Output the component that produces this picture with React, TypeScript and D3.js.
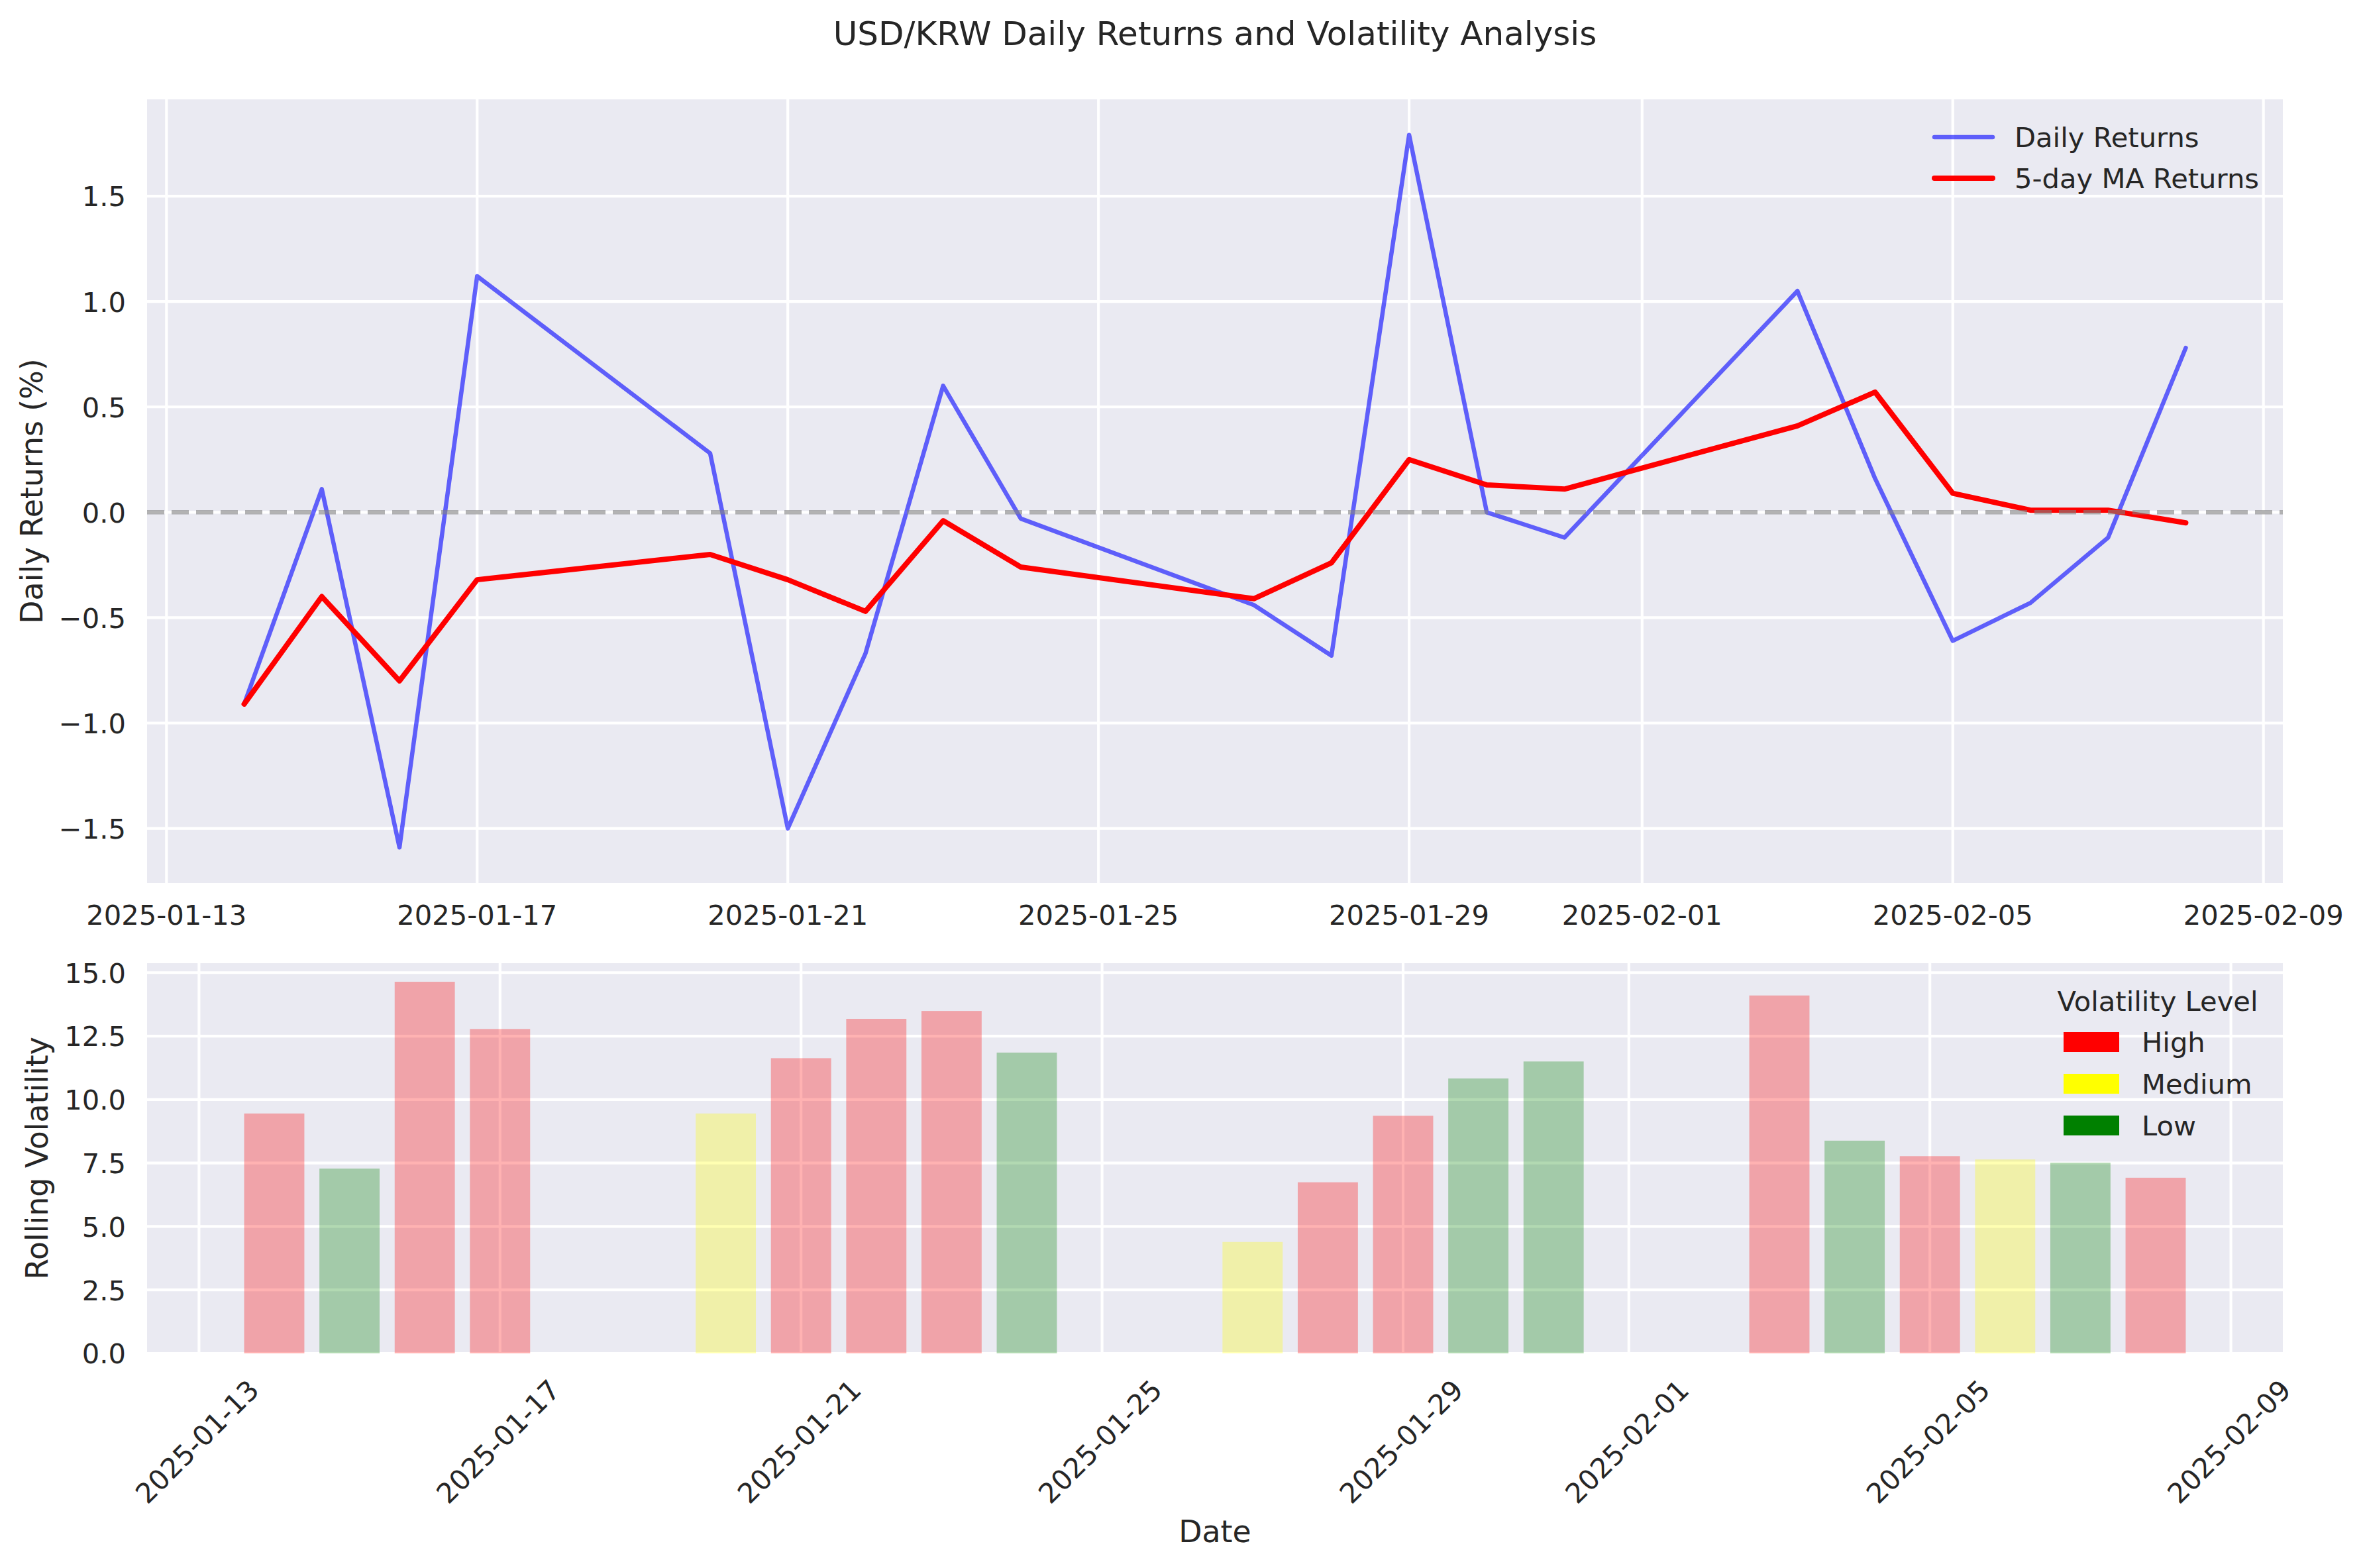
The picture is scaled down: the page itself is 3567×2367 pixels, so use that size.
import React from "react";
import * as d3 from "d3";

// ---- data ----
const dates = [
  "2025-01-14", "2025-01-15", "2025-01-16", "2025-01-17", "2025-01-20",
  "2025-01-21", "2025-01-22", "2025-01-23", "2025-01-24", "2025-01-27",
  "2025-01-28", "2025-01-29", "2025-01-30", "2025-01-31", "2025-02-03",
  "2025-02-04", "2025-02-05", "2025-02-06", "2025-02-07", "2025-02-08",
];
const dailyReturns = [
  -0.91, 0.11, -1.59, 1.12, 0.28, -1.5, -0.67, 0.6, -0.03, -0.44,
  -0.68, 1.79, 0.0, -0.12, 1.05, 0.16, -0.61, -0.43, -0.12, 0.78,
];
const maReturns = [
  -0.91, -0.4, -0.8, -0.32, -0.2, -0.32, -0.47, -0.04, -0.26, -0.41,
  -0.24, 0.25, 0.13, 0.11, 0.41, 0.57, 0.09, 0.01, 0.01, -0.05,
];
const rollingVol = [
  9.45, 7.28, 14.64, 12.78, 9.45, 11.63, 13.18, 13.49, 11.85, 4.39,
  6.74, 9.36, 10.83, 11.5, 14.1, 8.38, 7.77, 7.64, 7.51, 6.92,
];
const volLevels = [
  "High", "Low", "High", "High", "Medium", "High", "High", "High", "Low", "Medium",
  "High", "High", "Low", "Low", "High", "Low", "High", "Medium", "Low", "High",
];
const xTickLabels = [
  "2025-01-13", "2025-01-17", "2025-01-21", "2025-01-25",
  "2025-01-29", "2025-02-01", "2025-02-05", "2025-02-09",
];
const topYTicks = [-1.5, -1.0, -0.5, 0.0, 0.5, 1.0, 1.5];
const bottomYTicks = [0, 2.5, 5, 7.5, 10, 12.5, 15];
const levelNames = ["High", "Medium", "Low"];
const levelColors = ["red", "yellow", "green"];
const lineNames = ["Daily Returns", "5-day MA Returns"];

// ---- layout ----
const W = 3567;
const H = 2367;
const FONT = "'DejaVu Sans', sans-serif";
const TXT = "#262626";
const BG = "#EAEAF2";
const DAY = 86400000;
const parse = (s: string) => {
  const [y, m, d] = s.split("-").map(Number);
  return new Date(Date.UTC(y, m - 1, d));
};

const L = 222, R = 3446;
const top1 = 150, bot1 = 1333;
const top2 = 1454, bot2 = 2043;
const TICK = 41.67;
const LABEL = 45.83;

export default function App() {
  const dts = dates.map(parse);
  const ticks = xTickLabels.map(parse);
  const fmt = d3.utcFormat("%Y-%m-%d");
  const yfmt = d3.format(".1f");

  // top x scale (5% margins)
  const tMin = +d3.min(dts)!, tMax = +d3.max(dts)!;
  const span = tMax - tMin;
  const x1 = d3.scaleUtc().domain([new Date(tMin - span * 0.05), new Date(tMax + span * 0.05)]).range([L, R]);

  // bottom x scale: bars width 0.8 day
  const bw = 0.8 * DAY;
  const bMin = tMin - bw / 2, bMax = tMax + bw / 2;
  const bSpan = bMax - bMin;
  const x2 = d3.scaleUtc().domain([new Date(bMin - bSpan * 0.05), new Date(bMax + bSpan * 0.05)]).range([L, R]);

  const allVals = dailyReturns.concat(maReturns);
  const vMin = d3.min(allVals)!, vMax = d3.max(allVals)!;
  const vSpan = vMax - vMin;
  const y1 = d3.scaleLinear().domain([vMin - vSpan * 0.05, vMax + vSpan * 0.05]).range([bot1, top1]);
  const y2 = d3.scaleLinear().domain([0, d3.max(rollingVol)! * 1.05]).range([bot2, top2]);

  const line = d3.line<number>().x((_, i) => x1(dts[i])).y((v) => y1(v));
  const colorOf = (lvl: string) => levelColors[levelNames.indexOf(lvl)];

  return (
    <svg width={W} height={H} style={{ position: "absolute", left: 0, top: 0, display: "block", background: "#fff" }} fontFamily={FONT}>
      <rect x={0} y={0} width={W} height={H} fill="#fff" />
      {/* title */}
      <text x={1834} y={68} fontSize={50} fill={TXT} textAnchor="middle">USD/KRW Daily Returns and Volatility Analysis</text>

      {/* ---------- top panel ---------- */}
      <rect x={L} y={top1} width={R - L} height={bot1 - top1} fill={BG} />
      {topYTicks.map((t) => (
        <line key={"hg" + t} x1={L} x2={R} y1={y1(t)} y2={y1(t)} stroke="#fff" strokeWidth={4.17} />
      ))}
      {ticks.map((t, i) => (
        <line key={"vg" + i} x1={x1(t)} x2={x1(t)} y1={top1} y2={bot1} stroke="#fff" strokeWidth={4.17} />
      ))}
      <path d={line(dailyReturns)!} fill="none" stroke="blue" strokeOpacity={0.6} strokeWidth={6.5} strokeLinejoin="round" strokeLinecap="round" />
      <path d={line(maReturns)!} fill="none" stroke="red" strokeWidth={8} strokeLinejoin="round" strokeLinecap="round" />
      <line x1={L} x2={R} y1={y1(0)} y2={y1(0)} stroke="gray" strokeOpacity={0.6} strokeWidth={6.5} strokeDasharray="26 11" />
      {topYTicks.map((t) => (
        <text key={"yt" + t} x={190} y={y1(t)} dy="0.37em" fontSize={TICK} fill={TXT} textAnchor="end">{yfmt(t)}</text>
      ))}
      {ticks.map((t, i) => (
        <text key={"xt" + i} x={x1(t)} y={1396} fontSize={TICK} fill={TXT} textAnchor="middle">{fmt(t)}</text>
      ))}
      <text transform={`translate(64,${(top1 + bot1) / 2}) rotate(-90)`} fontSize={LABEL} fill={TXT} textAnchor="middle">Daily Returns (%)</text>
      {/* top legend */}
      {lineNames.map((n, i) => (
        <g key={"lg" + i}>
          <line x1={2920} x2={3008} y1={207 + i * 62} y2={207 + i * 62}
            stroke={i === 0 ? "blue" : "red"} strokeOpacity={i === 0 ? 0.6 : 1}
            strokeWidth={i === 0 ? 6.5 : 8} strokeLinecap="round" />
          <text x={3041} y={207 + i * 62} dy="0.37em" fontSize={TICK} fill={TXT}>{n}</text>
        </g>
      ))}

      {/* ---------- bottom panel ---------- */}
      <rect x={L} y={top2} width={R - L} height={bot2 - top2} fill={BG} />
      {bottomYTicks.map((t) => (
        <line key={"hg2" + t} x1={L} x2={R} y1={y2(t)} y2={y2(t)} stroke="#fff" strokeWidth={4.17} />
      ))}
      {ticks.map((t, i) => (
        <line key={"vg2" + i} x1={x2(t)} x2={x2(t)} y1={top2} y2={bot2} stroke="#fff" strokeWidth={4.17} />
      ))}
      {rollingVol.map((v, i) => {
        const xl = x2(new Date(+dts[i] - bw / 2));
        const xr = x2(new Date(+dts[i] + bw / 2));
        return (
          <rect key={"b" + i} x={xl} y={y2(v)} width={xr - xl} height={y2(0) - y2(v)}
            fill={colorOf(volLevels[i])} fillOpacity={0.3} />
        );
      })}
      {bottomYTicks.map((t) => (
        <text key={"yt2" + t} x={190} y={y2(t)} dy="0.37em" fontSize={TICK} fill={TXT} textAnchor="end">{yfmt(t)}</text>
      ))}
      {ticks.map((t, i) => (
        <text key={"xt2" + i} transform={`translate(${x2(t) - 3},2176) rotate(-45)`} dy="0.36em" fontSize={TICK} fill={TXT} textAnchor="middle">{fmt(t)}</text>
      ))}
      <text transform={`translate(72,${(top2 + bot2) / 2}) rotate(-90)`} fontSize={LABEL} fill={TXT} textAnchor="middle">Rolling Volatility</text>
      <text x={(L + R) / 2} y={2328} fontSize={LABEL} fill={TXT} textAnchor="middle">Date</text>
      {/* bottom legend */}
      <text x={3257} y={1526} fontSize={TICK} fill={TXT} textAnchor="middle">Volatility Level</text>
      {levelNames.map((n, i) => (
        <g key={"lv" + i}>
          <rect x={3115} y={1558 + i * 63} width={84} height={30} fill={levelColors[i]} />
          <text x={3233} y={1573 + i * 63} dy="0.37em" fontSize={TICK} fill={TXT}>{n}</text>
        </g>
      ))}
    </svg>
  );
}
